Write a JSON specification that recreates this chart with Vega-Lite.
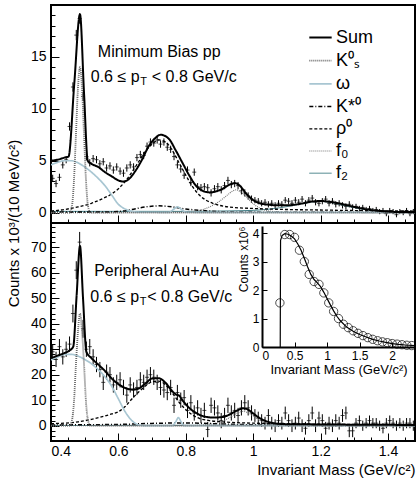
{
  "$schema": "https://vega.github.io/schema/vega-lite/v6.json",
  "padding": {"left": 5, "top": 4, "right": 1, "bottom": 2},
  "config": {
    "font": "Liberation Sans",
    "view": {"stroke": "black", "strokeWidth": 2},
    "axis": {"grid": false, "domain": false, "tickColor": "black", "labelColor": "black", "titleColor": "black", "labelFont": "Liberation Sans", "titleFont": "Liberation Sans", "labelFontSize": 14, "titleFontSize": 15, "titleFontWeight": "normal"}
  },
  "datasets": {
    "one": [{}],
    "topPts": [
      {"x":0.405,"y":3.3,"e":0.35},{"x":0.415,"y":2.8,"e":0.35},{"x":0.425,"y":3.4,"e":0.35},{"x":0.435,"y":4.6,"e":0.35},{"x":0.445,"y":5.1,"e":0.35},{"x":0.455,"y":8.3,"e":0.4},{"x":0.465,"y":12.1,"e":0.45},{"x":0.475,"y":17.1,"e":0.5},{"x":0.485,"y":18.7,"e":0.5},{"x":0.495,"y":11.2,"e":0.45},
      {"x":0.505,"y":5.4,"e":0.35},{"x":0.515,"y":4.8,"e":0.35},{"x":0.525,"y":5.2,"e":0.35},{"x":0.535,"y":5.1,"e":0.35},{"x":0.545,"y":4.7,"e":0.35},{"x":0.555,"y":4.9,"e":0.35},{"x":0.565,"y":4.3,"e":0.35},{"x":0.575,"y":4.5,"e":0.35},{"x":0.585,"y":4.1,"e":0.35},{"x":0.595,"y":4.4,"e":0.35},
      {"x":0.605,"y":4.0,"e":0.35},{"x":0.615,"y":3.8,"e":0.35},{"x":0.625,"y":4.3,"e":0.35},{"x":0.635,"y":4.6,"e":0.35},{"x":0.645,"y":4.4,"e":0.35},{"x":0.655,"y":5.3,"e":0.35},{"x":0.665,"y":5.6,"e":0.35},{"x":0.675,"y":5.5,"e":0.35},{"x":0.685,"y":6.4,"e":0.35},{"x":0.695,"y":6.8,"e":0.35},
      {"x":0.705,"y":6.7,"e":0.35},{"x":0.715,"y":7.0,"e":0.35},{"x":0.725,"y":6.6,"e":0.35},{"x":0.735,"y":6.8,"e":0.35},{"x":0.745,"y":6.3,"e":0.35},{"x":0.755,"y":6.1,"e":0.35},{"x":0.765,"y":5.4,"e":0.35},{"x":0.775,"y":4.6,"e":0.35},{"x":0.785,"y":4.2,"e":0.35},{"x":0.795,"y":3.6,"e":0.35},
      {"x":0.805,"y":4.1,"e":0.35},{"x":0.815,"y":2.9,"e":0.35},{"x":0.825,"y":3.9,"e":0.35},{"x":0.835,"y":2.5,"e":0.35},{"x":0.845,"y":2.4,"e":0.35},{"x":0.855,"y":2.5,"e":0.35},{"x":0.865,"y":2.4,"e":0.35},{"x":0.875,"y":1.9,"e":0.35},{"x":0.885,"y":2.3,"e":0.35},{"x":0.895,"y":2.5,"e":0.35},
      {"x":0.905,"y":2.2,"e":0.35},{"x":0.915,"y":2.6,"e":0.35},{"x":0.925,"y":3.1,"e":0.35},{"x":0.935,"y":2.7,"e":0.35},{"x":0.945,"y":2.8,"e":0.35},{"x":0.955,"y":2.6,"e":0.35},{"x":0.965,"y":2.1,"e":0.35},{"x":0.975,"y":1.9,"e":0.35},{"x":0.985,"y":1.6,"e":0.35},{"x":0.995,"y":1.3,"e":0.35},
      {"x":1.005,"y":1.2,"e":0.3},{"x":1.015,"y":1.1,"e":0.3},{"x":1.025,"y":0.9,"e":0.3},{"x":1.035,"y":1.0,"e":0.3},{"x":1.045,"y":0.8,"e":0.3},{"x":1.055,"y":0.9,"e":0.3},{"x":1.065,"y":0.7,"e":0.3},{"x":1.075,"y":0.9,"e":0.3},{"x":1.085,"y":0.8,"e":0.3},{"x":1.095,"y":1.2,"e":0.3},
      {"x":1.105,"y":1.1,"e":0.3},{"x":1.115,"y":0.9,"e":0.3},{"x":1.125,"y":1.2,"e":0.3},{"x":1.135,"y":1.0,"e":0.3},{"x":1.145,"y":1.3,"e":0.3},{"x":1.155,"y":0.9,"e":0.3},{"x":1.165,"y":1.2,"e":0.3},{"x":1.175,"y":1.4,"e":0.3},{"x":1.185,"y":1.0,"e":0.3},{"x":1.195,"y":0.9,"e":0.3},
      {"x":1.205,"y":1.1,"e":0.3},{"x":1.215,"y":1.3,"e":0.3},{"x":1.225,"y":0.9,"e":0.3},{"x":1.235,"y":1.1,"e":0.3},{"x":1.245,"y":0.8,"e":0.3},{"x":1.255,"y":0.9,"e":0.3},{"x":1.265,"y":0.7,"e":0.3},{"x":1.275,"y":0.6,"e":0.3},{"x":1.285,"y":0.8,"e":0.3},{"x":1.295,"y":0.5,"e":0.3},
      {"x":1.305,"y":0.6,"e":0.25},{"x":1.315,"y":0.4,"e":0.25},{"x":1.325,"y":0.5,"e":0.25},{"x":1.335,"y":0.3,"e":0.25},{"x":1.345,"y":0.4,"e":0.25},{"x":1.355,"y":0.2,"e":0.25},{"x":1.365,"y":0.3,"e":0.25},{"x":1.375,"y":0.1,"e":0.25},{"x":1.385,"y":0.2,"e":0.25},{"x":1.395,"y":-0.1,"e":0.25},
      {"x":1.405,"y":0.2,"e":0.25},{"x":1.415,"y":0.1,"e":0.25},{"x":1.425,"y":-0.2,"e":0.25},{"x":1.435,"y":0.1,"e":0.25},{"x":1.445,"y":0.0,"e":0.25},{"x":1.455,"y":0.2,"e":0.25},{"x":1.465,"y":-0.1,"e":0.25},{"x":1.475,"y":0.1,"e":0.25}
    ],
    "botPts": [
      {"x":0.405,"y":29,"e":3},{"x":0.415,"y":26,"e":3},{"x":0.425,"y":31,"e":3},{"x":0.435,"y":27,"e":3},{"x":0.445,"y":30,"e":3},{"x":0.455,"y":32,"e":3},{"x":0.465,"y":44,"e":3.5},{"x":0.475,"y":61,"e":3.5},{"x":0.485,"y":72,"e":4},{"x":0.495,"y":38,"e":3.5},
      {"x":0.505,"y":30,"e":3},{"x":0.515,"y":31,"e":3},{"x":0.525,"y":27,"e":3},{"x":0.535,"y":24,"e":3},{"x":0.545,"y":22,"e":3},{"x":0.555,"y":17,"e":3},{"x":0.565,"y":21,"e":3},{"x":0.575,"y":20,"e":3},{"x":0.585,"y":16,"e":3},{"x":0.595,"y":17,"e":3},
      {"x":0.605,"y":18,"e":3},{"x":0.615,"y":15,"e":3},{"x":0.625,"y":12,"e":3},{"x":0.635,"y":16,"e":3},{"x":0.645,"y":14,"e":3},{"x":0.655,"y":15,"e":3},{"x":0.665,"y":18,"e":3},{"x":0.675,"y":17,"e":3},{"x":0.685,"y":19,"e":3},{"x":0.695,"y":20,"e":3},
      {"x":0.705,"y":19,"e":3},{"x":0.715,"y":17,"e":3},{"x":0.725,"y":15,"e":3},{"x":0.735,"y":14,"e":3},{"x":0.745,"y":13,"e":3},{"x":0.755,"y":15,"e":3},{"x":0.765,"y":8,"e":3},{"x":0.775,"y":13,"e":3},{"x":0.785,"y":10,"e":3},{"x":0.795,"y":11,"e":3},
      {"x":0.805,"y":6,"e":3},{"x":0.815,"y":9,"e":3},{"x":0.825,"y":5,"e":3},{"x":0.835,"y":7,"e":3},{"x":0.845,"y":4,"e":3},{"x":0.855,"y":6,"e":3},{"x":0.865,"y":-1.5,"e":3},{"x":0.875,"y":8,"e":3},{"x":0.885,"y":7,"e":3},{"x":0.895,"y":5,"e":3},
      {"x":0.905,"y":2,"e":3},{"x":0.915,"y":4,"e":3},{"x":0.925,"y":8,"e":3},{"x":0.935,"y":5,"e":3},{"x":0.945,"y":6,"e":3},{"x":0.955,"y":4,"e":3},{"x":0.965,"y":7,"e":3},{"x":0.975,"y":9,"e":3},{"x":0.985,"y":7,"e":3},{"x":0.995,"y":5,"e":3},
      {"x":1.005,"y":4,"e":2.5},{"x":1.015,"y":3,"e":2.5},{"x":1.025,"y":2,"e":2.5},{"x":1.035,"y":1,"e":2.5},{"x":1.045,"y":4,"e":2.5},{"x":1.055,"y":1,"e":2.5},{"x":1.065,"y":0,"e":2.5},{"x":1.075,"y":2,"e":2.5},{"x":1.085,"y":1,"e":2.5},{"x":1.095,"y":5,"e":2.5},
      {"x":1.105,"y":2,"e":2.5},{"x":1.115,"y":0,"e":2.5},{"x":1.125,"y":1,"e":2.5},{"x":1.135,"y":3,"e":2.5},{"x":1.145,"y":0,"e":2.5},{"x":1.155,"y":-1,"e":2.5},{"x":1.165,"y":2,"e":2.5},{"x":1.175,"y":5,"e":2.5},{"x":1.185,"y":0,"e":2.5},{"x":1.195,"y":3,"e":2.5},
      {"x":1.205,"y":2,"e":2.5},{"x":1.215,"y":-1,"e":2.5},{"x":1.225,"y":1,"e":2.5},{"x":1.235,"y":0,"e":2.5},{"x":1.245,"y":2,"e":2.5},{"x":1.255,"y":1,"e":2.5},{"x":1.265,"y":4,"e":2.5},{"x":1.275,"y":5,"e":2.5},{"x":1.285,"y":-2,"e":2.5},{"x":1.295,"y":-2,"e":2.5},
      {"x":1.305,"y":1,"e":2},{"x":1.315,"y":2,"e":2},{"x":1.325,"y":0,"e":2},{"x":1.335,"y":1,"e":2},{"x":1.345,"y":2,"e":2},{"x":1.355,"y":1,"e":2},{"x":1.365,"y":1,"e":2},{"x":1.375,"y":0,"e":2},{"x":1.385,"y":-1,"e":2},{"x":1.395,"y":1,"e":2},
      {"x":1.405,"y":2,"e":2},{"x":1.415,"y":1,"e":2},{"x":1.425,"y":0,"e":2},{"x":1.435,"y":1,"e":2},{"x":1.445,"y":0,"e":2},{"x":1.455,"y":1,"e":2},{"x":1.465,"y":1,"e":2},{"x":1.475,"y":0,"e":2}
    ],
    "topCurves": [
      {"x":0.40,"y":0.12,"s":"f₂"},{"x":0.8,"y":0.12,"s":"f₂"},{"x":0.9,"y":0.15,"s":"f₂"},{"x":1.0,"y":0.22,"s":"f₂"},{"x":1.05,"y":0.35,"s":"f₂"},{"x":1.1,"y":0.58,"s":"f₂"},{"x":1.15,"y":0.9,"s":"f₂"},{"x":1.18,"y":1.05,"s":"f₂"},{"x":1.2,"y":1.08,"s":"f₂"},{"x":1.23,"y":0.98,"s":"f₂"},{"x":1.27,"y":0.7,"s":"f₂"},{"x":1.31,"y":0.42,"s":"f₂"},{"x":1.35,"y":0.22,"s":"f₂"},{"x":1.4,"y":0.1,"s":"f₂"},{"x":1.48,"y":0.05,"s":"f₂"},
      {"x":0.40,"y":0,"s":"f₀"},{"x":0.78,"y":0.02,"s":"f₀"},{"x":0.82,"y":0.1,"s":"f₀"},{"x":0.85,"y":0.3,"s":"f₀"},{"x":0.88,"y":0.7,"s":"f₀"},{"x":0.90,"y":1.1,"s":"f₀"},{"x":0.92,"y":1.6,"s":"f₀"},{"x":0.94,"y":2.1,"s":"f₀"},{"x":0.95,"y":2.2,"s":"f₀"},{"x":0.96,"y":2.05,"s":"f₀"},{"x":0.98,"y":1.5,"s":"f₀"},{"x":1.00,"y":0.85,"s":"f₀"},{"x":1.02,"y":0.42,"s":"f₀"},{"x":1.05,"y":0.14,"s":"f₀"},{"x":1.1,"y":0.03,"s":"f₀"},{"x":1.48,"y":0,"s":"f₀"},
      {"x":0.40,"y":0.05,"s":"K*⁰"},{"x":0.55,"y":0.05,"s":"K*⁰"},{"x":0.60,"y":0.1,"s":"K*⁰"},{"x":0.64,"y":0.3,"s":"K*⁰"},{"x":0.68,"y":0.55,"s":"K*⁰"},{"x":0.72,"y":0.65,"s":"K*⁰"},{"x":0.76,"y":0.55,"s":"K*⁰"},{"x":0.80,"y":0.35,"s":"K*⁰"},{"x":0.85,"y":0.2,"s":"K*⁰"},{"x":0.90,"y":0.1,"s":"K*⁰"},{"x":1.0,"y":0.05,"s":"K*⁰"},{"x":1.48,"y":0.02,"s":"K*⁰"},
      {"x":0.40,"y":0.15,"s":"ρ⁰"},{"x":0.44,"y":0.3,"s":"ρ⁰"},{"x":0.48,"y":0.55,"s":"ρ⁰"},{"x":0.52,"y":0.9,"s":"ρ⁰"},{"x":0.55,"y":1.3,"s":"ρ⁰"},{"x":0.58,"y":1.8,"s":"ρ⁰"},{"x":0.60,"y":2.3,"s":"ρ⁰"},{"x":0.62,"y":3.0,"s":"ρ⁰"},{"x":0.64,"y":3.9,"s":"ρ⁰"},{"x":0.66,"y":4.9,"s":"ρ⁰"},{"x":0.68,"y":5.9,"s":"ρ⁰"},{"x":0.70,"y":6.6,"s":"ρ⁰"},{"x":0.72,"y":7.0,"s":"ρ⁰"},{"x":0.74,"y":6.8,"s":"ρ⁰"},{"x":0.76,"y":6.0,"s":"ρ⁰"},{"x":0.78,"y":4.8,"s":"ρ⁰"},{"x":0.80,"y":3.6,"s":"ρ⁰"},{"x":0.82,"y":2.5,"s":"ρ⁰"},{"x":0.84,"y":1.7,"s":"ρ⁰"},{"x":0.86,"y":1.2,"s":"ρ⁰"},{"x":0.88,"y":0.9,"s":"ρ⁰"},{"x":0.90,"y":0.7,"s":"ρ⁰"},{"x":0.94,"y":0.5,"s":"ρ⁰"},{"x":1.0,"y":0.4,"s":"ρ⁰"},{"x":1.1,"y":0.3,"s":"ρ⁰"},{"x":1.2,"y":0.25,"s":"ρ⁰"},{"x":1.3,"y":0.2,"s":"ρ⁰"},{"x":1.48,"y":0.15,"s":"ρ⁰"},
      {"x":0.40,"y":4.6,"s":"ω"},{"x":0.42,"y":4.85,"s":"ω"},{"x":0.44,"y":5.0,"s":"ω"},{"x":0.46,"y":5.0,"s":"ω"},{"x":0.48,"y":4.8,"s":"ω"},{"x":0.50,"y":4.4,"s":"ω"},{"x":0.52,"y":3.9,"s":"ω"},{"x":0.54,"y":3.3,"s":"ω"},{"x":0.56,"y":2.6,"s":"ω"},{"x":0.58,"y":1.7,"s":"ω"},{"x":0.60,"y":0.8,"s":"ω"},{"x":0.62,"y":0.35,"s":"ω"},{"x":0.64,"y":0.12,"s":"ω"},{"x":0.66,"y":0.04,"s":"ω"},{"x":0.75,"y":0.03,"s":"ω"},{"x":0.765,"y":0.35,"s":"ω"},{"x":0.775,"y":0.55,"s":"ω"},{"x":0.785,"y":0.35,"s":"ω"},{"x":0.80,"y":0.04,"s":"ω"},{"x":0.9,"y":0.02,"s":"ω"},{"x":1.48,"y":0.02,"s":"ω"},
      {"x":0.40,"y":0,"s":"K⁰ₛ"},{"x":0.455,"y":0,"s":"K⁰ₛ"},{"x":0.462,"y":0.6,"s":"K⁰ₛ"},{"x":0.468,"y":3,"s":"K⁰ₛ"},{"x":0.474,"y":7.5,"s":"K⁰ₛ"},{"x":0.48,"y":12,"s":"K⁰ₛ"},{"x":0.486,"y":14,"s":"K⁰ₛ"},{"x":0.492,"y":12,"s":"K⁰ₛ"},{"x":0.498,"y":7.5,"s":"K⁰ₛ"},{"x":0.504,"y":3,"s":"K⁰ₛ"},{"x":0.51,"y":0.6,"s":"K⁰ₛ"},{"x":0.517,"y":0,"s":"K⁰ₛ"},{"x":1.48,"y":0,"s":"K⁰ₛ"},
      {"x":0.40,"y":5.0,"s":"Sum"},{"x":0.42,"y":5.1,"s":"Sum"},{"x":0.44,"y":5.3,"s":"Sum"},{"x":0.452,"y":5.4,"s":"Sum"},{"x":0.469,"y":12.4,"s":"Sum"},{"x":0.486,"y":19.1,"s":"Sum"},{"x":0.498,"y":11.5,"s":"Sum"},{"x":0.509,"y":5.0,"s":"Sum"},{"x":0.52,"y":4.7,"s":"Sum"},{"x":0.54,"y":4.4,"s":"Sum"},{"x":0.56,"y":3.9,"s":"Sum"},{"x":0.58,"y":3.5,"s":"Sum"},{"x":0.60,"y":3.1,"s":"Sum"},{"x":0.615,"y":3.0,"s":"Sum"},{"x":0.63,"y":3.2,"s":"Sum"},{"x":0.65,"y":4.0,"s":"Sum"},{"x":0.67,"y":5.1,"s":"Sum"},{"x":0.69,"y":6.4,"s":"Sum"},{"x":0.71,"y":7.2,"s":"Sum"},{"x":0.725,"y":7.5,"s":"Sum"},{"x":0.75,"y":7.1,"s":"Sum"},{"x":0.77,"y":6.0,"s":"Sum"},{"x":0.79,"y":4.8,"s":"Sum"},{"x":0.81,"y":3.6,"s":"Sum"},{"x":0.83,"y":2.6,"s":"Sum"},{"x":0.85,"y":2.1,"s":"Sum"},{"x":0.87,"y":1.95,"s":"Sum"},{"x":0.89,"y":2.05,"s":"Sum"},{"x":0.91,"y":2.3,"s":"Sum"},{"x":0.93,"y":2.7,"s":"Sum"},{"x":0.945,"y":2.85,"s":"Sum"},{"x":0.96,"y":2.6,"s":"Sum"},{"x":0.98,"y":1.8,"s":"Sum"},{"x":1.00,"y":1.2,"s":"Sum"},{"x":1.02,"y":0.9,"s":"Sum"},{"x":1.05,"y":0.75,"s":"Sum"},{"x":1.08,"y":0.7,"s":"Sum"},{"x":1.11,"y":0.72,"s":"Sum"},{"x":1.14,"y":0.85,"s":"Sum"},{"x":1.17,"y":1.05,"s":"Sum"},{"x":1.2,"y":1.12,"s":"Sum"},{"x":1.23,"y":1.02,"s":"Sum"},{"x":1.26,"y":0.85,"s":"Sum"},{"x":1.3,"y":0.55,"s":"Sum"},{"x":1.34,"y":0.3,"s":"Sum"},{"x":1.38,"y":0.15,"s":"Sum"},{"x":1.42,"y":0.07,"s":"Sum"},{"x":1.48,"y":0.05,"s":"Sum"}
    ],
    "botCurves": [
      {"x":0.4,"y":0.1,"s":"f₂"},{"x":1.0,"y":0.15,"s":"f₂"},{"x":1.1,"y":0.25,"s":"f₂"},{"x":1.2,"y":0.4,"s":"f₂"},{"x":1.3,"y":0.2,"s":"f₂"},{"x":1.48,"y":0.1,"s":"f₂"},
      {"x":0.40,"y":0,"s":"f₀"},{"x":0.82,"y":0.05,"s":"f₀"},{"x":0.85,"y":0.3,"s":"f₀"},{"x":0.88,"y":0.8,"s":"f₀"},{"x":0.91,"y":1.8,"s":"f₀"},{"x":0.93,"y":3.2,"s":"f₀"},{"x":0.95,"y":4.8,"s":"f₀"},{"x":0.97,"y":5.6,"s":"f₀"},{"x":0.99,"y":4.7,"s":"f₀"},{"x":1.01,"y":3.0,"s":"f₀"},{"x":1.03,"y":1.5,"s":"f₀"},{"x":1.05,"y":0.6,"s":"f₀"},{"x":1.08,"y":0.1,"s":"f₀"},{"x":1.48,"y":0,"s":"f₀"},
      {"x":0.4,"y":0.3,"s":"K*⁰"},{"x":0.6,"y":0.5,"s":"K*⁰"},{"x":0.7,"y":0.9,"s":"K*⁰"},{"x":0.8,"y":1.1,"s":"K*⁰"},{"x":0.9,"y":0.7,"s":"K*⁰"},{"x":1.0,"y":0.35,"s":"K*⁰"},{"x":1.1,"y":0.15,"s":"K*⁰"},{"x":1.48,"y":0.1,"s":"K*⁰"},
      {"x":0.40,"y":0.8,"s":"ρ⁰"},{"x":0.44,"y":1.0,"s":"ρ⁰"},{"x":0.48,"y":1.5,"s":"ρ⁰"},{"x":0.52,"y":2.5,"s":"ρ⁰"},{"x":0.56,"y":3.8,"s":"ρ⁰"},{"x":0.58,"y":4.6,"s":"ρ⁰"},{"x":0.60,"y":5.5,"s":"ρ⁰"},{"x":0.62,"y":7.5,"s":"ρ⁰"},{"x":0.64,"y":10.5,"s":"ρ⁰"},{"x":0.66,"y":13.2,"s":"ρ⁰"},{"x":0.68,"y":15.6,"s":"ρ⁰"},{"x":0.70,"y":17.2,"s":"ρ⁰"},{"x":0.72,"y":17.5,"s":"ρ⁰"},{"x":0.74,"y":16.0,"s":"ρ⁰"},{"x":0.76,"y":12.8,"s":"ρ⁰"},{"x":0.78,"y":9.2,"s":"ρ⁰"},{"x":0.80,"y":6.3,"s":"ρ⁰"},{"x":0.82,"y":4.2,"s":"ρ⁰"},{"x":0.84,"y":2.9,"s":"ρ⁰"},{"x":0.87,"y":2.0,"s":"ρ⁰"},{"x":0.90,"y":1.6,"s":"ρ⁰"},{"x":0.95,"y":1.2,"s":"ρ⁰"},{"x":1.0,"y":1.0,"s":"ρ⁰"},{"x":1.1,"y":0.8,"s":"ρ⁰"},{"x":1.2,"y":0.6,"s":"ρ⁰"},{"x":1.3,"y":0.5,"s":"ρ⁰"},{"x":1.48,"y":0.4,"s":"ρ⁰"},
      {"x":0.40,"y":25.8,"s":"ω"},{"x":0.42,"y":27,"s":"ω"},{"x":0.44,"y":28,"s":"ω"},{"x":0.46,"y":28,"s":"ω"},{"x":0.48,"y":27.3,"s":"ω"},{"x":0.50,"y":26,"s":"ω"},{"x":0.52,"y":24.3,"s":"ω"},{"x":0.54,"y":22,"s":"ω"},{"x":0.56,"y":19.2,"s":"ω"},{"x":0.58,"y":15.5,"s":"ω"},{"x":0.60,"y":10.5,"s":"ω"},{"x":0.62,"y":5.5,"s":"ω"},{"x":0.64,"y":2.0,"s":"ω"},{"x":0.66,"y":0.3,"s":"ω"},{"x":0.68,"y":0,"s":"ω"},{"x":0.76,"y":0,"s":"ω"},{"x":0.77,"y":1.5,"s":"ω"},{"x":0.778,"y":3.2,"s":"ω"},{"x":0.786,"y":1.5,"s":"ω"},{"x":0.795,"y":0,"s":"ω"},{"x":1.48,"y":0,"s":"ω"},
      {"x":0.40,"y":0,"s":"K⁰ₛ"},{"x":0.455,"y":0,"s":"K⁰ₛ"},{"x":0.462,"y":2,"s":"K⁰ₛ"},{"x":0.468,"y":9,"s":"K⁰ₛ"},{"x":0.474,"y":24,"s":"K⁰ₛ"},{"x":0.48,"y":37,"s":"K⁰ₛ"},{"x":0.486,"y":44,"s":"K⁰ₛ"},{"x":0.492,"y":37,"s":"K⁰ₛ"},{"x":0.498,"y":24,"s":"K⁰ₛ"},{"x":0.504,"y":9,"s":"K⁰ₛ"},{"x":0.51,"y":2,"s":"K⁰ₛ"},{"x":0.517,"y":0,"s":"K⁰ₛ"},{"x":1.48,"y":0,"s":"K⁰ₛ"},
      {"x":0.40,"y":26.5,"s":"Sum"},{"x":0.42,"y":27.5,"s":"Sum"},{"x":0.44,"y":28.5,"s":"Sum"},{"x":0.455,"y":29.5,"s":"Sum"},{"x":0.466,"y":31,"s":"Sum"},{"x":0.476,"y":51,"s":"Sum"},{"x":0.486,"y":70.5,"s":"Sum"},{"x":0.495,"y":50,"s":"Sum"},{"x":0.505,"y":29,"s":"Sum"},{"x":0.52,"y":26.5,"s":"Sum"},{"x":0.54,"y":24,"s":"Sum"},{"x":0.56,"y":21.5,"s":"Sum"},{"x":0.58,"y":18.5,"s":"Sum"},{"x":0.60,"y":16.3,"s":"Sum"},{"x":0.62,"y":14.8,"s":"Sum"},{"x":0.64,"y":14.2,"s":"Sum"},{"x":0.66,"y":14.6,"s":"Sum"},{"x":0.68,"y":16.5,"s":"Sum"},{"x":0.70,"y":18.5,"s":"Sum"},{"x":0.72,"y":18.6,"s":"Sum"},{"x":0.74,"y":16.8,"s":"Sum"},{"x":0.76,"y":13.5,"s":"Sum"},{"x":0.77,"y":12.3,"s":"Sum"},{"x":0.78,"y":11.8,"s":"Sum"},{"x":0.79,"y":10,"s":"Sum"},{"x":0.81,"y":7,"s":"Sum"},{"x":0.83,"y":5,"s":"Sum"},{"x":0.85,"y":3.8,"s":"Sum"},{"x":0.88,"y":3.2,"s":"Sum"},{"x":0.91,"y":3.4,"s":"Sum"},{"x":0.93,"y":4.4,"s":"Sum"},{"x":0.95,"y":5.8,"s":"Sum"},{"x":0.97,"y":6.8,"s":"Sum"},{"x":0.98,"y":6.6,"s":"Sum"},{"x":1.0,"y":4.8,"s":"Sum"},{"x":1.02,"y":2.9,"s":"Sum"},{"x":1.04,"y":1.7,"s":"Sum"},{"x":1.06,"y":1.0,"s":"Sum"},{"x":1.1,"y":0.6,"s":"Sum"},{"x":1.2,"y":0.5,"s":"Sum"},{"x":1.3,"y":0.4,"s":"Sum"},{"x":1.48,"y":0.3,"s":"Sum"}
    ],
    "insetLine": [
      {"x":0.28,"y":0},{"x":0.285,"y":3.75},{"x":0.31,"y":3.92},{"x":0.35,"y":3.98},{"x":0.4,"y":3.96},{"x":0.45,"y":3.9},{"x":0.5,"y":3.8},{"x":0.55,"y":3.62},{"x":0.6,"y":3.4},{"x":0.65,"y":3.12},{"x":0.7,"y":2.82},{"x":0.75,"y":2.55},{"x":0.8,"y":2.37},{"x":0.85,"y":2.25},{"x":0.9,"y":2.12},{"x":0.95,"y":1.92},{"x":1.0,"y":1.7},{"x":1.05,"y":1.48},{"x":1.1,"y":1.27},{"x":1.15,"y":1.08},{"x":1.2,"y":0.93},{"x":1.3,"y":0.7},{"x":1.4,"y":0.55},{"x":1.5,"y":0.44},{"x":1.6,"y":0.35},{"x":1.7,"y":0.27},{"x":1.8,"y":0.21},{"x":1.9,"y":0.16},{"x":2.0,"y":0.12},{"x":2.1,"y":0.09},{"x":2.2,"y":0.07},{"x":2.35,"y":0.05}
    ],
    "insetPts": [
      {"x":0.275,"y":1.55},{"x":0.35,"y":3.95},{"x":0.425,"y":3.95},{"x":0.5,"y":3.85},{"x":0.575,"y":3.4},{"x":0.65,"y":3.0},{"x":0.725,"y":2.55},{"x":0.8,"y":2.3},{"x":0.875,"y":2.2},{"x":0.95,"y":1.9},{"x":1.025,"y":1.55},{"x":1.1,"y":1.25},{"x":1.175,"y":1.0},{"x":1.25,"y":0.8},{"x":1.325,"y":0.68},{"x":1.4,"y":0.57},{"x":1.475,"y":0.48},{"x":1.55,"y":0.4},{"x":1.625,"y":0.33},{"x":1.7,"y":0.27},{"x":1.775,"y":0.22},{"x":1.85,"y":0.18},{"x":1.925,"y":0.15},{"x":2.0,"y":0.12},{"x":2.075,"y":0.1},{"x":2.15,"y":0.08},{"x":2.225,"y":0.06},{"x":2.3,"y":0.05}
    ]
  },
  "spacing": 0,
  "bounds": "flush",
  "resolve": {
    "scale": {"color": "independent", "strokeDash": "independent", "strokeWidth": "independent"},
    "legend": {"color": "independent", "strokeDash": "independent", "strokeWidth": "independent"}
  },
  "vconcat": [
    {
      "width": 364, "height": 218,
      "resolve": {"axis": {"x": "independent", "y": "independent"}},
      "layer": [
        {
          "data": {"name": "topPts"},
          "mark": {"type": "tick", "orient": "horizontal", "size": 4, "thickness": 1, "color": "black"},
          "encoding": {
            "x": {"field": "x", "type": "quantitative", "scale": {"domain": [0.4, 1.48], "nice": false, "zero": false},
                  "axis": {"orient": "bottom", "values": [0.4, 0.6, 0.8, 1, 1.2, 1.4], "labels": false, "title": null, "tickSize": -8}},
            "y": {"field": "y", "type": "quantitative", "scale": {"domain": [-1, 20], "nice": false, "zero": false},
                  "axis": {"orient": "left", "values": [0, 5, 10, 15], "format": "d", "title": null, "tickSize": -8, "labelPadding": 13}}
          }
        },
        {
          "data": {"name": "topPts"},
          "mark": {"type": "errorbar", "color": "black", "thickness": 1, "ticks": false},
          "encoding": {
            "x": {"field": "x", "type": "quantitative", "axis": null},
            "y": {"field": "y", "type": "quantitative", "axis": null},
            "yError": {"field": "e"}
          }
        },
        {
          "data": {"name": "topCurves"},
          "mark": {"type": "line", "interpolate": "monotone", "clip": true},
          "encoding": {
            "x": {"field": "x", "type": "quantitative", "axis": null},
            "y": {"field": "y", "type": "quantitative", "axis": null},
            "color": {"field": "s", "type": "nominal",
              "scale": {"domain": ["Sum", "K⁰ₛ", "ω", "K*⁰", "ρ⁰", "f₀", "f₂"], "range": ["#000000", "#6a6a6a", "#a8c6d2", "#000000", "#000000", "#7a7a7a", "#3e7c84"]},
              "legend": {"orient": "none", "legendX": 257, "legendY": 20, "title": null, "symbolType": "stroke", "symbolSize": 500, "labelFontSize": 18, "labelFont": "Liberation Sans", "rowPadding": 1.2, "labelOffset": 3, "padding": 0}},
            "strokeDash": {"field": "s", "type": "nominal",
              "scale": {"domain": ["Sum", "K⁰ₛ", "ω", "K*⁰", "ρ⁰", "f₀", "f₂"], "range": [[1, 0], [1, 1], [1, 0], [4, 2, 1, 2], [3, 2], [1, 1], [1, 0]]},
              "legend": {"orient": "none", "legendX": 257, "legendY": 20, "title": null, "symbolType": "stroke", "symbolSize": 500, "labelFontSize": 18, "labelFont": "Liberation Sans", "rowPadding": 1.2, "labelOffset": 3, "padding": 0}},
            "strokeWidth": {"field": "s", "type": "nominal",
              "scale": {"domain": ["Sum", "K⁰ₛ", "ω", "K*⁰", "ρ⁰", "f₀", "f₂"], "range": [2, 1, 2, 1.4, 1.8, 1, 2.4]},
              "legend": {"orient": "none", "legendX": 257, "legendY": 20, "title": null, "symbolType": "stroke", "symbolSize": 500, "labelFontSize": 18, "labelFont": "Liberation Sans", "rowPadding": 1.2, "labelOffset": 3, "padding": 0}}
          }
        },
        {
          "data": {"name": "one"},
          "mark": {"type": "text", "align": "left", "baseline": "middle", "fontSize": 16, "text": "Minimum Bias pp"},
          "encoding": {"x": {"datum": 0.539, "axis": null}, "y": {"datum": 15.5, "axis": null}}
        },
        {
          "data": {"name": "one"},
          "mark": {"type": "text", "align": "left", "baseline": "middle", "fontSize": 16, "text": "0.6 ≤ p"},
          "encoding": {"x": {"datum": 0.518, "axis": null}, "y": {"datum": 13.1, "axis": null}}
        },
        {
          "data": {"name": "one"},
          "mark": {"type": "text", "align": "left", "baseline": "middle", "fontSize": 11, "text": "T", "dx": 49.5, "dy": 5},
          "encoding": {"x": {"datum": 0.518, "axis": null}, "y": {"datum": 13.1, "axis": null}}
        },
        {
          "data": {"name": "one"},
          "mark": {"type": "text", "align": "left", "baseline": "middle", "fontSize": 16, "text": "< 0.8 GeV/c", "dx": 61},
          "encoding": {"x": {"datum": 0.518, "axis": null}, "y": {"datum": 13.1, "axis": null}}
        },
        {
          "data": {"name": "topPts"},
          "mark": {"type": "point", "opacity": 0},
          "encoding": {
            "x": {"field": "x", "type": "quantitative",
                  "axis": {"orient": "bottom", "values": [0.45, 0.5, 0.55, 0.65, 0.7, 0.75, 0.85, 0.9, 0.95, 1.05, 1.1, 1.15, 1.25, 1.3, 1.35, 1.45], "labels": false, "title": null, "tickSize": -4}},
            "y": {"field": "y", "type": "quantitative",
                  "axis": {"orient": "left", "values": [-1, 1, 2, 3, 4, 6, 7, 8, 9, 11, 12, 13, 14, 16, 17, 18, 19], "labels": false, "title": null, "tickSize": -4}}
          }
        }
      ]
    },
    {
      "width": 364, "height": 218,
      "resolve": {"scale": {"x": "independent", "y": "independent"}, "axis": {"x": "independent", "y": "independent"}},
      "layer": [
        {
          "data": {"name": "botPts"},
          "mark": {"type": "tick", "orient": "horizontal", "size": 4, "thickness": 1, "color": "black"},
          "encoding": {
            "x": {"field": "x", "type": "quantitative", "scale": {"domain": [0.4, 1.48], "nice": false, "zero": false},
                  "axis": {"orient": "bottom", "values": [0.4, 0.6, 0.8, 1, 1.2, 1.4], "format": "~g", "tickSize": -8, "labelPadding": 11, "title": "Invariant Mass (GeV/c²)", "titleAnchor": "end", "titlePadding": 4}},
            "y": {"field": "y", "type": "quantitative", "scale": {"domain": [-6, 79.5], "nice": false, "zero": false},
                  "axis": {"orient": "left", "values": [0, 10, 20, 30, 40, 50, 60, 70], "format": "d", "tickSize": -8, "labelPadding": 13, "title": "Counts x 10³/(10 MeV/c²)", "titleX": -30, "titleY": 0, "titleAngle": -90, "titleAlign": "center", "titleBaseline": "bottom"}}
          }
        },
        {
          "data": {"name": "botPts"},
          "mark": {"type": "errorbar", "color": "black", "thickness": 1, "ticks": false},
          "encoding": {
            "x": {"field": "x", "type": "quantitative", "scale": {"domain": [0.4, 1.48], "nice": false, "zero": false}, "axis": null},
            "y": {"field": "y", "type": "quantitative", "scale": {"domain": [-6, 79.5], "nice": false, "zero": false}, "axis": null},
            "yError": {"field": "e"}
          }
        },
        {
          "data": {"name": "botCurves"},
          "mark": {"type": "line", "interpolate": "monotone", "clip": true},
          "encoding": {
            "x": {"field": "x", "type": "quantitative", "scale": {"domain": [0.4, 1.48], "nice": false, "zero": false}, "axis": null},
            "y": {"field": "y", "type": "quantitative", "scale": {"domain": [-6, 79.5], "nice": false, "zero": false}, "axis": null},
            "color": {"field": "s", "type": "nominal", "legend": null,
              "scale": {"domain": ["Sum", "K⁰ₛ", "ω", "K*⁰", "ρ⁰", "f₀", "f₂"], "range": ["#000000", "#6a6a6a", "#a8c6d2", "#000000", "#000000", "#7a7a7a", "#3e7c84"]}},
            "strokeDash": {"field": "s", "type": "nominal", "legend": null,
              "scale": {"domain": ["Sum", "K⁰ₛ", "ω", "K*⁰", "ρ⁰", "f₀", "f₂"], "range": [[1, 0], [1, 1], [1, 0], [4, 2, 1, 2], [3, 2], [1, 1], [1, 0]]}},
            "strokeWidth": {"field": "s", "type": "nominal", "legend": null,
              "scale": {"domain": ["Sum", "K⁰ₛ", "ω", "K*⁰", "ρ⁰", "f₀", "f₂"], "range": [2, 1, 2, 1.4, 1.8, 1, 2.4]}}
          }
        },
        {
          "data": {"name": "one"},
          "mark": {"type": "text", "align": "left", "baseline": "middle", "fontSize": 16, "text": "Peripheral Au+Au"},
          "encoding": {"x": {"datum": 0.528, "scale": {"domain": [0.4, 1.48], "nice": false, "zero": false}, "axis": null}, "y": {"datum": 60.5, "scale": {"domain": [-6, 79.5], "nice": false, "zero": false}, "axis": null}}
        },
        {
          "data": {"name": "one"},
          "mark": {"type": "text", "align": "left", "baseline": "middle", "fontSize": 16, "text": "0.6 ≤ p"},
          "encoding": {"x": {"datum": 0.5165, "scale": {"domain": [0.4, 1.48], "nice": false, "zero": false}, "axis": null}, "y": {"datum": 50.3, "scale": {"domain": [-6, 79.5], "nice": false, "zero": false}, "axis": null}}
        },
        {
          "data": {"name": "one"},
          "mark": {"type": "text", "align": "left", "baseline": "middle", "fontSize": 11, "text": "T", "dx": 49.5, "dy": 5},
          "encoding": {"x": {"datum": 0.5165, "scale": {"domain": [0.4, 1.48], "nice": false, "zero": false}, "axis": null}, "y": {"datum": 50.3, "scale": {"domain": [-6, 79.5], "nice": false, "zero": false}, "axis": null}}
        },
        {
          "data": {"name": "one"},
          "mark": {"type": "text", "align": "left", "baseline": "middle", "fontSize": 16, "text": "< 0.8 GeV/c", "dx": 57},
          "encoding": {"x": {"datum": 0.5165, "scale": {"domain": [0.4, 1.48], "nice": false, "zero": false}, "axis": null}, "y": {"datum": 50.3, "scale": {"domain": [-6, 79.5], "nice": false, "zero": false}, "axis": null}}
        },
        {
          "data": {"name": "botPts"},
          "mark": {"type": "point", "opacity": 0},
          "encoding": {
            "x": {"field": "x", "type": "quantitative", "scale": {"domain": [0.4, 1.48], "nice": false, "zero": false},
                  "axis": {"orient": "bottom", "values": [0.45, 0.5, 0.55, 0.65, 0.7, 0.75, 0.85, 0.9, 0.95, 1.05, 1.1, 1.15, 1.25, 1.3, 1.35, 1.45], "labels": false, "title": null, "tickSize": -4}},
            "y": {"field": "y", "type": "quantitative", "scale": {"domain": [-6, 79.5], "nice": false, "zero": false},
                  "axis": {"orient": "left", "values": [-6, -4, -2, 2, 4, 6, 8, 12, 14, 16, 18, 22, 24, 26, 28, 32, 34, 36, 38, 42, 44, 46, 48, 52, 54, 56, 58, 62, 64, 66, 68, 72, 74, 76, 78], "labels": false, "title": null, "tickSize": -4}}
          }
        },
        {
          "data": {"name": "insetLine"},
          "mark": {"type": "line", "color": "black", "strokeWidth": 1.2},
          "encoding": {
            "x": {"field": "x", "type": "quantitative", "scale": {"domain": [0, 2.35], "range": [211, 364], "nice": false, "zero": false},
                  "axis": {"orient": "bottom", "offset": -94, "values": [0, 0.5, 1, 1.5, 2], "format": "~g", "tickSize": -5, "labelFontSize": 12, "labelPadding": 8, "title": "Invariant Mass (GeV/c²)", "titleFontSize": 13, "titlePadding": 2, "domain": true, "domainColor": "black", "domainWidth": 2}},
            "y": {"field": "y", "type": "quantitative", "scale": {"domain": [0, 4.25], "range": [124, 3], "nice": false, "zero": false},
                  "axis": {"orient": "left", "offset": -211, "values": [0, 1, 2, 3, 4], "format": "d", "tickSize": -5, "labelFontSize": 12, "labelPadding": 8, "title": "Counts x10⁶", "titleFontSize": 12, "titlePadding": 2, "titleAnchor": "end", "domain": true, "domainColor": "black", "domainWidth": 2}}
          }
        },
        {
          "data": {"name": "insetPts"},
          "mark": {"type": "point", "shape": "circle", "filled": false, "color": "black", "size": 70, "strokeWidth": 1},
          "encoding": {
            "x": {"field": "x", "type": "quantitative", "scale": {"domain": [0, 2.35], "range": [211, 364], "nice": false, "zero": false}, "axis": null},
            "y": {"field": "y", "type": "quantitative", "scale": {"domain": [0, 4.25], "range": [124, 3], "nice": false, "zero": false}, "axis": null}
          }
        }
      ]
    }
  ]
}
